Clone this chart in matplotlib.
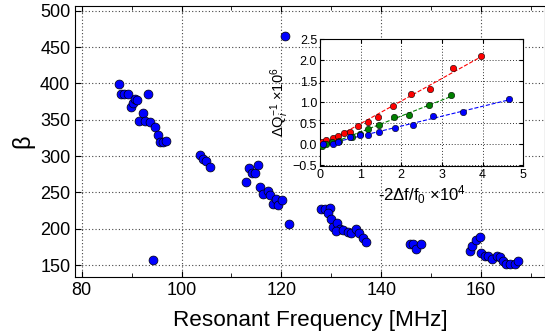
import numpy as np
import matplotlib
matplotlib.use("Agg")
import matplotlib.pyplot as plt
from matplotlib.ticker import MultipleLocator

plt.rcParams['font.family'] = ['Liberation Sans', 'DejaVu Sans']
plt.rcParams['mathtext.fontset'] = 'custom'
plt.rcParams['mathtext.rm'] = 'Liberation Sans'
plt.rcParams['mathtext.it'] = 'Liberation Sans:italic'

# main panel: beta vs resonant frequency
freq = [87.5, 87.8, 88.5, 89.2, 93.3, 89.9, 90.3, 90.7, 91.1, 92.2, 91.4, 92.6,
        93.7, 94.7, 95.3, 95.6, 96.2, 96.9, 94.2,
        103.7, 104.3, 104.9, 105.7,
        113.0, 113.5, 114.2, 114.8, 115.3, 115.7, 116.3, 117.3, 117.8, 118.3,
        118.9, 119.4, 120.1, 121.5, 120.8,
        128.0, 128.8, 129.7, 129.3, 130.0, 130.3, 131.1, 131.7, 130.9, 132.3,
        133.3, 134.0, 135.0, 135.5, 136.3, 137.0,
        145.7, 146.3, 147.0, 147.9,
        157.7, 158.2, 158.9, 159.7, 159.9, 160.7, 161.3, 162.1, 163.1, 163.7,
        164.3, 165.0, 165.8, 166.7, 167.4]
beta = [399, 386, 386, 386, 386, 368, 373, 379, 377, 359, 348, 349,
        347, 340, 329, 320, 320, 321, 157,
        302, 296, 293, 285,
        264, 283, 277, 277, 288, 257, 248, 252, 247, 234,
        241, 233, 239, 206, 466,
        227, 227, 228, 221, 213, 203, 208, 200, 197, 198,
        195, 194, 200, 194, 187, 182,
        179, 179, 172, 179,
        169, 176, 184, 189, 166, 163, 162, 158, 162, 161,
        155, 152, 151, 151, 155]

# inset: dQ^-1 vs -2 df/f0 for three modes
x_red = [0.04, 0.16, 0.31, 0.45, 0.59, 0.74, 0.94, 1.19, 1.44, 1.80, 2.24, 2.71, 3.28, 3.96]
y_red = [0.06, 0.10, 0.14, 0.20, 0.26, 0.30, 0.44, 0.54, 0.66, 0.91, 1.20, 1.32, 1.81, 2.10]
x_green = [0.04, 0.16, 0.30, 0.46, 0.78, 0.98, 1.19, 1.46, 1.83, 2.20, 2.68, 3.22]
y_green = [-0.04, 0.00, 0.05, 0.09, 0.17, 0.25, 0.36, 0.46, 0.64, 0.70, 0.94, 1.17]
x_blue = [0.08, 0.32, 0.45, 0.74, 0.98, 1.19, 1.46, 1.85, 2.30, 2.77, 3.53, 4.64]
y_blue = [0.00, 0.02, 0.05, 0.17, 0.22, 0.22, 0.30, 0.39, 0.47, 0.67, 0.76, 1.07]
inset_yticks = [-0.5, 0.0, 0.5, 1.0, 1.5, 2.0, 2.5]

fig = plt.figure(figsize=(5.45, 3.35), dpi=100)
ax = fig.add_axes([0.138, 0.174, 0.862, 0.807])
ax.plot(freq, beta, 'o', color='blue', mec='black', mew=0.5, ms=6.4, zorder=3)
ax.set_xlim(78.7, 172.8)
ax.set_ylim(133.9, 506.2)
ax.xaxis.set_major_locator(MultipleLocator(20))
ax.xaxis.set_minor_locator(MultipleLocator(10))
ax.yaxis.set_major_locator(MultipleLocator(50))
ax.tick_params(which='both', direction='in', top=True, labelsize=13)
ax.tick_params(which='major', length=4)
ax.tick_params(which='minor', length=3)
ax.grid(True, which='major', linestyle=(0, (1, 2)), color='#444444', linewidth=0.8)
ax.set_xlabel('Resonant Frequency [MHz]', fontsize=16.2, labelpad=8)
ax.set_ylabel('β', fontsize=17, labelpad=4)

ins = fig.add_axes([0.587, 0.505, 0.373, 0.378])
for xs, ys, c in [(x_red, y_red, 'red'), (x_green, y_green, 'green'), (x_blue, y_blue, 'blue')]:
    k, b = np.polyfit(xs, ys, 1)
    xx = np.array([0, max(xs)])
    ins.plot(xx, k * xx + b, '--', color=c, lw=0.8, zorder=2)
    ins.plot(xs, ys, 'o', color=c, mec='black', mew=0.4, ms=4.6, zorder=3)
ins.set_xlim(0, 5)
ins.set_yticks(inset_yticks)
ins.set_yticklabels([f'{v:.1f}'.replace('-', '\u2212') for v in inset_yticks])
ins.set_ylim(-0.51, 2.5)
ins.xaxis.set_major_locator(MultipleLocator(1))
ins.tick_params(direction='in', top=True, right=True, labelsize=9, length=3, pad=2)
ins.grid(True, linestyle=(0, (1, 2)), color='#333333', linewidth=0.7)
ins.set_xlabel('-2Δf/f$_0$ ×10$^4$', fontsize=12, labelpad=2)
ins.set_ylabel('ΔQ$_i^{-1}$ ×10$^6$', fontsize=10.5, labelpad=1)

fig.savefig('out.png', dpi=100)
